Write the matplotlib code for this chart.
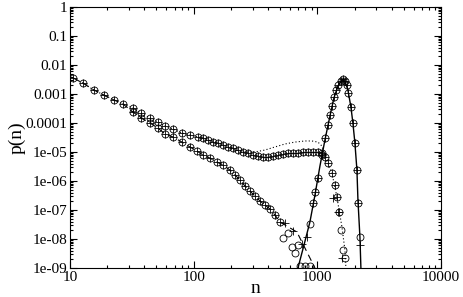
import numpy as np
import matplotlib
matplotlib.use('Agg')
import matplotlib.pyplot as plt
from matplotlib.ticker import LogLocator, FuncFormatter, NullFormatter

plt.rcParams['font.family'] = ['Liberation Serif', 'DejaVu Serif']

# ── data ──────────────────────────────────────────────────────────────────────
# common start (both branches overlap here)
n_head = [10.6, 12.7, 15.6, 18.8, 22.7, 26.8]
p_head = [3.56e-3, 2.39e-3, 1.37e-3, 9.2e-4, 6.2e-4, 4.5e-4]

# upper branch (circles / pluses, dotted theory line)
n_up = [32.3, 37.5, 44.3, 51.4, 58.6, 68.0, 80.4, 93.3, 108, 119, 131, 143,
        157, 173, 189, 208, 228, 250, 275, 302, 331, 363, 399, 438, 480, 527,
        578, 635, 697, 765, 839, 921, 1011, 1089, 1152, 1218, 1312, 1387,
        1440, 1495, 1552, 1611, 1671]
p_up = [3.3e-4, 2.2e-4, 1.49e-4, 1.08e-4, 7.9e-5, 6.2e-5, 4.5e-5, 3.86e-5,
        3.3e-5, 3.04e-5, 2.6e-5, 2.2e-5, 2.04e-5, 1.74e-5, 1.49e-5, 1.37e-5,
        1.17e-5, 1.0e-5, 9.2e-6, 7.9e-6, 7.3e-6, 6.7e-6, 6.7e-6, 7.3e-6,
        7.9e-6, 8.5e-6, 9.2e-6, 9.2e-6, 9.2e-6, 1.0e-5, 1.0e-5, 1.0e-5,
        1.0e-5, 9.2e-6, 6.7e-6, 4.2e-6, 1.89e-6, 7.3e-7, 2.8e-7, 8.5e-8,
        2.04e-8, 4.2e-9, 2.2e-9]
n_up_plus_tail = [1337, 1468, 1581]
p_up_plus_tail = [2.6e-7, 8.5e-8, 2.2e-9]

n_dot = [250, 313, 377, 454, 547, 659, 794, 904, 1011, 1089, 1152, 1218,
         1312, 1440, 1581, 1671, 1702]
p_dot = [1.0e-5, 1.0e-5, 1.17e-5, 1.49e-5, 1.89e-5, 2.2e-5, 2.4e-5, 2.4e-5,
         2.2e-5, 1.61e-5, 7.9e-6, 4.2e-6, 1.89e-6, 2.8e-7, 2.6e-8, 4.2e-9,
         1e-9]

# lower branch (circles / pluses, dashed theory line)
n_lo = [32.3, 37.5, 44.3, 51.4, 58.6, 68.0, 80.4, 93.3, 106, 119, 135, 154,
        173, 196, 216, 237, 260, 285, 313, 344, 377, 414, 454, 499]
p_lo = [2.4e-4, 1.49e-4, 1.0e-4, 6.7e-5, 4.2e-5, 3.3e-5, 2.2e-5, 1.49e-5,
        1.08e-5, 7.9e-6, 6.2e-6, 4.5e-6, 3.56e-6, 2.4e-6, 1.61e-6, 1.08e-6,
        6.7e-7, 4.5e-7, 3.04e-7, 2.04e-7, 1.49e-7, 1.08e-7, 6.7e-8, 3.86e-8]
n_lo_circ_tail = [527, 578, 623, 659, 697]
p_lo_circ_tail = [1.08e-8, 1.61e-8, 5.3e-9, 3.3e-9, 6.2e-9]
n_lo_plus_tail = [547, 635]
p_lo_plus_tail = [3.56e-8, 1.89e-8]
n_dash_tail = [684, 765, 855, 957]
p_dash_tail = [1.74e-8, 6.7e-9, 2.6e-9, 1e-9]

# peak (circles / pluses, solid theory line)
n_pk = [723, 794, 871, 871, 921, 957, 1011, 1089, 1152, 1218, 1265, 1312,
        1362, 1414, 1468, 1552, 1611, 1671, 1734, 1767, 1869, 1939, 2013,
        2090, 2130, 2210]
p_pk = [1.17e-9, 1.17e-9, 1.17e-9, 3.3e-8, 1.74e-7, 4.2e-7, 1.27e-6, 7.9e-6,
        3.04e-5, 8.5e-5, 1.89e-4, 3.86e-4, 7.9e-4, 1.37e-3, 2.04e-3, 2.8e-3,
        3.3e-3, 2.8e-3, 2.04e-3, 1.08e-3, 3.56e-4, 1.0e-4, 2.04e-5, 2.4e-6,
        1.74e-7, 1.17e-8]
n_pk_plus = [751, 824, 921, 957, 1011, 1089, 1152, 1218, 1265, 1312, 1362,
             1414, 1468, 1552, 1611, 1671, 1734, 1767, 1869, 1939, 2013, 2090,
             2130, 2210]
p_pk_plus = [6.7e-9, 1.17e-8, 1.74e-7, 4.2e-7, 1.27e-6, 7.9e-6, 3.04e-5,
             8.5e-5, 1.89e-4, 3.86e-4, 7.9e-4, 1.37e-3, 2.04e-3, 2.8e-3,
             3.3e-3, 2.8e-3, 2.04e-3, 1.08e-3, 3.56e-4, 1.0e-4, 2.04e-5,
             2.4e-6, 1.74e-7, 6.2e-9]
n_solid = [697, 780, 871, 957, 1050, 1152, 1265, 1362, 1468, 1581, 1671,
           1767, 1869, 1939, 2013, 2090, 2130, 2210, 2251]
p_solid = [1e-9, 6.2e-9, 3.86e-8, 3.3e-7, 3.3e-6, 2.6e-5, 1.74e-4, 7.3e-4,
           1.89e-3, 3.04e-3, 2.8e-3, 1.37e-3, 3.56e-4, 1.0e-4, 2.04e-5,
           2.4e-6, 2.2e-7, 1.17e-8, 1e-9]

# ── figure ────────────────────────────────────────────────────────────────────
fig = plt.figure(figsize=(4.63, 2.97), dpi=100)
ax = fig.add_axes([70 / 463, 1 - 268 / 297, 371 / 463, 261 / 297])

circ = dict(ls='none', marker='o', ms=5.0, mfc='none', mec='black', mew=0.6)
plus = dict(ls='none', marker='+', ms=5.5, mec='black', mew=0.6)

# theory lines
ax.plot(n_head + n_up[:15] + n_dot, p_head + p_up[:15] + p_dot,
        color='black', lw=0.8, ls=(0, (1, 2)))
ax.plot(n_head + n_lo + n_dash_tail, p_head + p_lo + p_dash_tail,
        color='black', lw=0.8, ls=(0, (6, 4)))
ax.plot(n_solid, p_solid, color='black', lw=1.0)

# simulation points
ax.plot(n_head + n_up, p_head + p_up, **circ)
ax.plot(n_head + n_up[:-3] + n_up_plus_tail, p_head + p_up[:-3] + p_up_plus_tail, **plus)
ax.plot(n_lo + n_lo_circ_tail, p_lo + p_lo_circ_tail, **circ)
ax.plot(n_lo + n_lo_plus_tail, p_lo + p_lo_plus_tail, **plus)
ax.plot(n_pk, p_pk, **circ)
ax.plot(n_pk_plus, p_pk_plus, **plus)

ax.set_xscale('log')
ax.set_yscale('log')
ax.set_xlim(10, 10000)
ax.set_ylim(1e-9, 1)

ax.xaxis.set_major_locator(LogLocator(base=10, numticks=10))
ax.xaxis.set_minor_locator(LogLocator(base=10, subs=np.arange(2, 10), numticks=20))
ax.yaxis.set_major_locator(LogLocator(base=10, numticks=20))
ax.yaxis.set_minor_locator(LogLocator(base=10, subs=np.arange(2, 10), numticks=40))
ax.xaxis.set_minor_formatter(NullFormatter())
ax.yaxis.set_minor_formatter(NullFormatter())


def yfmt(v, pos):
    e = int(round(np.log10(v)))
    if e >= -4:
        return ('%.*f' % (max(0, -e), v)) if e < 0 else '1'
    return '1e-%02d' % (-e)


ax.xaxis.set_major_formatter(FuncFormatter(lambda v, p: '%d' % round(v)))
ax.yaxis.set_major_formatter(FuncFormatter(yfmt))

ax.tick_params(which='both', direction='in', top=True, right=True,
               labelsize=11, width=0.8)
ax.tick_params(which='major', length=5, pad=2)
ax.tick_params(which='minor', length=2.5)
for s in ax.spines.values():
    s.set_linewidth(0.8)

ax.set_xlabel('n', fontsize=14, labelpad=-3)
ax.set_ylabel('p(n)', fontsize=14, labelpad=0)

fig.savefig('out.png', dpi=100)
